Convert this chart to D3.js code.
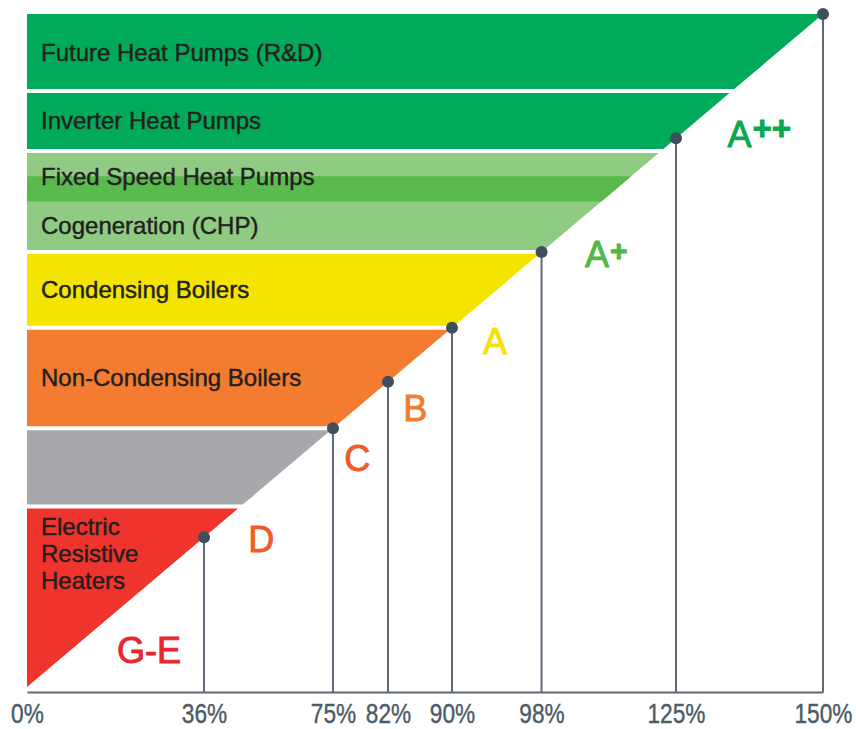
<!DOCTYPE html>
<html lang="en">
<head>
<meta charset="UTF-8">
<title>Heating technologies by seasonal efficiency</title>
<style>
  body { margin: 0; background: #fff; }
  text { font-family: 'Liberation Sans', Arial, sans-serif; }
</style>
</head>
<body>
<script src="https://d3js.org/d3.v7.min.js"></script>
<script>
// efficiency thresholds on the axis (%)
var effTicks = [0, 36, 75, 82, 90, 98, 125, 150];
// thresholds that get a marker on the diagonal
var markerEff = [36, 75, 82, 90, 98, 125, 150];

// technology bands (top to bottom), each covers an efficiency range
var bandNames = [
    ['Future Heat Pumps (R&D)'],
    ['Inverter Heat Pumps'],
    ['Fixed Speed Heat Pumps'],
    ['Cogeneration (CHP)'],
    ['Condensing Boilers'],
    ['Non-Condensing Boilers'],
    [],
    ['Electric', 'Resistive', 'Heaters']
];
var bandLow  = [134.5, 122, 110, 98, 90, 75, 47, 0];
var bandHigh = [150, 134.5, 122, 116, 98, 90, 75, 47];

// energy label classes and the efficiency level where each label sits
var grades = ['A++', 'A+', 'A', 'B', 'C', 'D', 'G-E'];
var gradeLevel = [128.5, 100.5, 90, 80, 69, 40, 12];

var bandColors = ['#00aa5a', '#00aa5a', '#90cb83', '#90cb83', '#f3e500', '#f47c30', '#a7a8ab', '#ee342c'];
var overlapColor = '#5bba4e';
var gradeColors = ['#0ba84f', '#4fb848', '#f2e400', '#f47c30', '#f05a28', '#f15a29', '#e8262b'];

var width = 856, height = 729,
    x0 = 27, x1 = 823,
    yBase = 687, yTop = 14,
    axisY = 692,
    gap = 2;

var svg = d3.select('body').append('svg')
    .attr('width', width)
    .attr('height', height);

// the axis is schematic: each threshold has its own spot along the diagonal
var along = d3.scaleLinear()
    .domain(effTicks)
    .range([0, .2224, .3844, .4535, .5339, .6464, .8153, 1]);
var fx = d3.scaleLinear().domain([0, 1]).range([x0, x1]);
var fy = d3.scaleLinear().domain([0, 1]).range([yBase, yTop]);
var x = d3.scaleLinear()
    .domain(effTicks)
    .range(effTicks.map(function(d) { return fx(along(d)); }));
function y(d) { return fy(along(d)); }
function diagX(py) { return fx(fy.invert(py)); }

var maxEff = d3.max(effTicks);

function bandPoly(lo, hi, inset) {
    var top = y(hi) + (inset && hi < maxEff ? gap : 0),
        bot = y(lo) - (inset && lo > 0 ? gap : 0);
    return [[x0, top], [diagX(top), top], [diagX(bot), bot], [x0, bot]];
}

var bands = bandNames.map(function(n, i) {
    return { names: n, lo: bandLow[i], hi: bandHigh[i], color: bandColors[i] };
});

svg.append('g').attr('class', 'bands')
   .selectAll('polygon')
   .data(bands)
   .enter().append('polygon')
   .attr('points', function(d) { return bandPoly(d.lo, d.hi, true).join(' '); })
   .attr('fill', function(d) { return d.color; });

// where two bands share a range the overlap is shown darker
var overlaps = [];
bands.forEach(function(b, i) {
    var nxt = bands[i + 1];
    if (nxt && b.lo < nxt.hi) overlaps.push({ lo: b.lo, hi: nxt.hi });
});
svg.append('g').attr('class', 'overlaps')
   .selectAll('polygon')
   .data(overlaps)
   .enter().append('polygon')
   .attr('points', function(d) { return bandPoly(d.lo, d.hi, false).join(' '); })
   .attr('fill', overlapColor);

// band labels
var labels = svg.append('g').attr('class', 'band-labels')
    .selectAll('text')
    .data(bands)
    .enter().append('text')
    .attr('x', 41)
    .attr('font-size', 24)
    .attr('fill', '#231f20')
    .attr('stroke', '#231f20')
    .attr('stroke-width', 0.45)
    .attr('y', function(d, i) {
        var top = y(d.hi) + gap, bot = y(d.lo) - gap;
        var prev = bands[i - 1];
        if (prev && prev.lo < d.hi) top = y(prev.lo);
        if (d.names.length > 1) return top + 18.5;
        return (top + bot) / 2;
    });
labels.selectAll('tspan')
    .data(function(d) { return d.names; })
    .enter().append('tspan')
    .attr('x', 41)
    .attr('dy', function(d, i) { return i === 0 ? '0.35em' : 27; })
    .text(function(d) { return d; });

// stems and markers
var marks = svg.append('g').attr('class', 'markers')
    .selectAll('g')
    .data(markerEff)
    .enter().append('g');
marks.append('line')
    .attr('x1', function(d) { return x(d); })
    .attr('x2', function(d) { return x(d); })
    .attr('y1', function(d) { return y(d); })
    .attr('y2', axisY)
    .attr('stroke', '#5e6b76')
    .attr('stroke-width', 2);
marks.append('circle')
    .attr('cx', function(d) { return x(d); })
    .attr('cy', function(d) { return y(d); })
    .attr('r', 6)
    .attr('fill', '#3f4f5c');

// axis
var xAxis = d3.axisBottom(x)
    .tickValues(effTicks)
    .tickFormat(function(d) { return d + '%'; })
    .tickSize(0)
    .tickPadding(12);
var gx = svg.append('g')
    .attr('class', 'x-axis')
    .attr('transform', 'translate(0,' + axisY + ')')
    .call(xAxis);
gx.select('.domain').attr('stroke', '#5e6b76').attr('stroke-width', 2);
// tick labels use a slightly condensed face
gx.selectAll('text')
  .attr('font-size', 27)
  .attr('transform', 'scale(0.84,1)')
  .attr('fill', '#4c5b67')
  .attr('stroke', '#4c5b67')
  .attr('stroke-width', 0.4)
  .style('font-family', "'Liberation Sans', Arial, sans-serif");

// grade labels sit just right of the diagonal
var gText = svg.append('g').attr('class', 'grades')
    .selectAll('text')
    .data(grades)
    .enter().append('text')
    .attr('x', function(d, i) { return diagX(y(gradeLevel[i])) + 31; })
    .attr('y', function(d, i) { return y(gradeLevel[i]); })
    .attr('dy', '0.72em')
    .attr('font-size', 36)
    .attr('fill', function(d, i) { return gradeColors[i]; })
    .attr('stroke', function(d, i) { return gradeColors[i]; })
    .attr('stroke-width', 0.9);
gText.each(function(d) {
    var m = d.match(/^(.*?)(\+*)$/), t = d3.select(this);
    t.append('tspan').text(m[1]);
    if (m[2]) {
        var two = m[2].length > 1;
        t.append('tspan')
         .attr('dx', 1)
         .attr('dy', two ? -7 : -6)
         .attr('font-size', two ? 33 : 30)
         .attr('font-weight', 'bold')
         .text(m[2]);
    }
});
</script>
</body>
</html>
